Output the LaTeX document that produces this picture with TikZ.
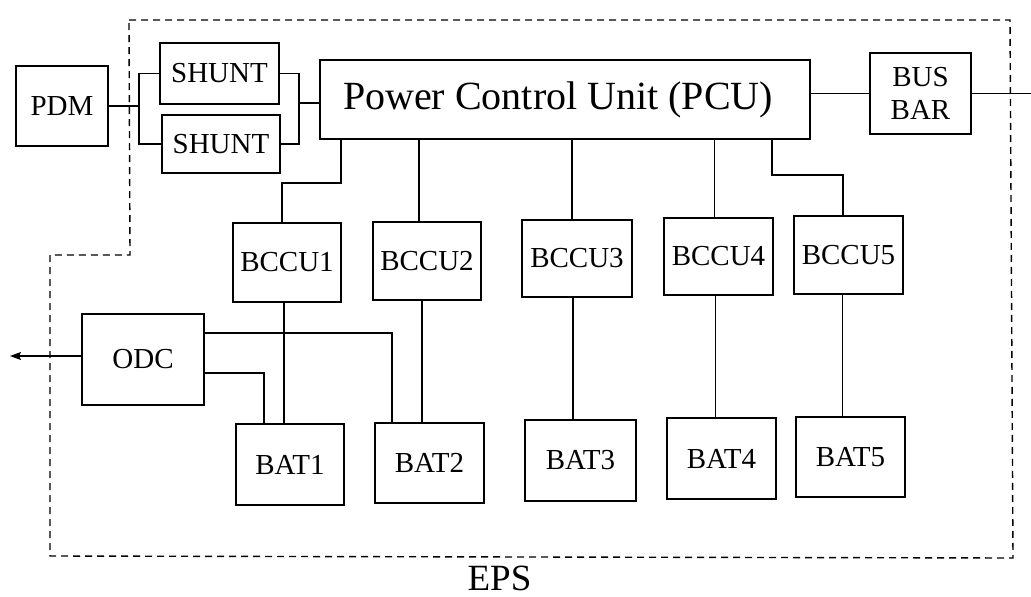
\documentclass[tikz,border=0pt]{standalone}
\usepackage{fontspec}
\setmainfont{Liberation Serif}
\usetikzlibrary{arrows.meta}
\begin{document}
\begin{tikzpicture}[x=1pt,y=-1pt,
  box/.style={draw,line width=1.3pt,inner sep=0pt,align=center,
    font=\fontsize{29pt}{33pt}\selectfont},
  wire/.style={line width=1.3pt},
  boundary/.style={line width=1.4pt,dash pattern=on 7pt off 5pt}]
\useasboundingbox (0,0) rectangle (1031,597);
% boundary
\draw[boundary] (129,20) -- (1010,20) -- (1013,558) -- (50,556) -- (50,255) -- (130,255) -- cycle;
% nodes
\node[box,minimum width=92pt,minimum height=80pt] (pdm) at (62,106) {PDM};
\node[box,minimum width=119pt,minimum height=61pt] (sh1) at (219.5,73.5) {SHUNT};
\node[box,minimum width=118pt,minimum height=58pt] (sh2) at (221,144) {SHUNT};
\node[box,minimum width=490pt,minimum height=79pt,font=\fontsize{40pt}{44pt}\selectfont] (pcu) at (565,99.5) {Power Control Unit (PCU)\hspace*{14pt}};
\node[box,minimum width=101pt,minimum height=81pt] (bus) at (920.5,93.5) {BUS\\BAR};
\node[box,minimum width=108pt,minimum height=79pt] (c1) at (287,262.5) {BCCU1};
\node[box,minimum width=108pt,minimum height=78pt] (c2) at (427,261) {BCCU2};
\node[box,minimum width=110pt,minimum height=77pt] (c3) at (577,258.5) {BCCU3};
\node[box,minimum width=109pt,minimum height=77pt] (c4) at (718.5,256.5) {BCCU4};
\node[box,minimum width=109pt,minimum height=78pt] (c5) at (848.5,255) {BCCU5};
\node[box,minimum width=122pt,minimum height=91pt] (odc) at (143,359.5) {ODC};
\node[box,minimum width=108pt,minimum height=81pt] (b1) at (290,464.5) {BAT1};
\node[box,minimum width=109pt,minimum height=80pt] (b2) at (429.5,463) {BAT2};
\node[box,minimum width=111pt,minimum height=81pt] (b3) at (580.5,460.5) {BAT3};
\node[box,minimum width=109pt,minimum height=81pt] (b4) at (721.5,458.5) {BAT4};
\node[box,minimum width=109pt,minimum height=80pt] (b5) at (850.5,457) {BAT5};
\node[font=\fontsize{37pt}{40pt}\selectfont,inner sep=0pt,text depth=0pt,anchor=base] (eps) at (499.5,590) {EPS};
% junctions
\coordinate (ja) at (139,106);
\coordinate (jb) at (299,103);
\coordinate (k1) at (341,183);
\coordinate (k1b) at (282,183);
\coordinate (k5) at (772,175);
\coordinate (k5b) at (843,175);
\coordinate (out) at (1031,93.5);
\coordinate (odcout) at (10,356);
\coordinate (u2) at (392,333);
\coordinate (u1) at (264,373);
% connectors
\draw[wire] (pdm.east |- ja) -- (ja);
\draw[wire] (sh1.west) -| (ja) |- (sh2.west);
\draw[wire] (sh1.east) -| (jb) |- (sh2.east);
\draw[wire] (jb) -- (jb -| pcu.west);
\draw[wire] (bus.west -| pcu.east) -- (bus.west);
\draw[wire] (bus.east) -- (out);
\draw[wire] (k1 |- pcu.south) -- (k1) -- (k1b) -- (k1b |- c1.north);
\draw[wire] ([xshift=-8pt]c2.north |- pcu.south) -- ([xshift=-8pt]c2.north);
\draw[wire] ([xshift=-5pt]c3.north |- pcu.south) -- ([xshift=-5pt]c3.north);
\draw[wire] ([xshift=-4pt]c4.north |- pcu.south) -- ([xshift=-4pt]c4.north);
\draw[wire] (k5 |- pcu.south) -- (k5) -- (k5b) -- (k5b |- c5.north);
\draw[wire] ([xshift=-3pt]c1.south) -- ([xshift=-3pt]c1.south |- b1.north);
\draw[wire] ([xshift=-5pt]c2.south) -- ([xshift=-5pt]c2.south |- b2.north);
\draw[wire] ([xshift=-4pt]c3.south) -- ([xshift=-4pt]c3.south |- b3.north);
\draw[wire] ([xshift=-3pt]c4.south) -- ([xshift=-3pt]c4.south |- b4.north);
\draw[wire] ([xshift=-6pt]c5.south) -- ([xshift=-6pt]c5.south |- b5.north);
\draw[wire] (u2 -| odc.east) -- (u2) -- (u2 |- b2.north);
\draw[wire] (u1 -| odc.east) -- (u1) -- (u1 |- b1.north);
\draw[wire,-{Stealth[length=11pt,width=8pt,inset=2pt]}] (odcout -| odc.west) -- (odcout);
\end{tikzpicture}
\end{document}
